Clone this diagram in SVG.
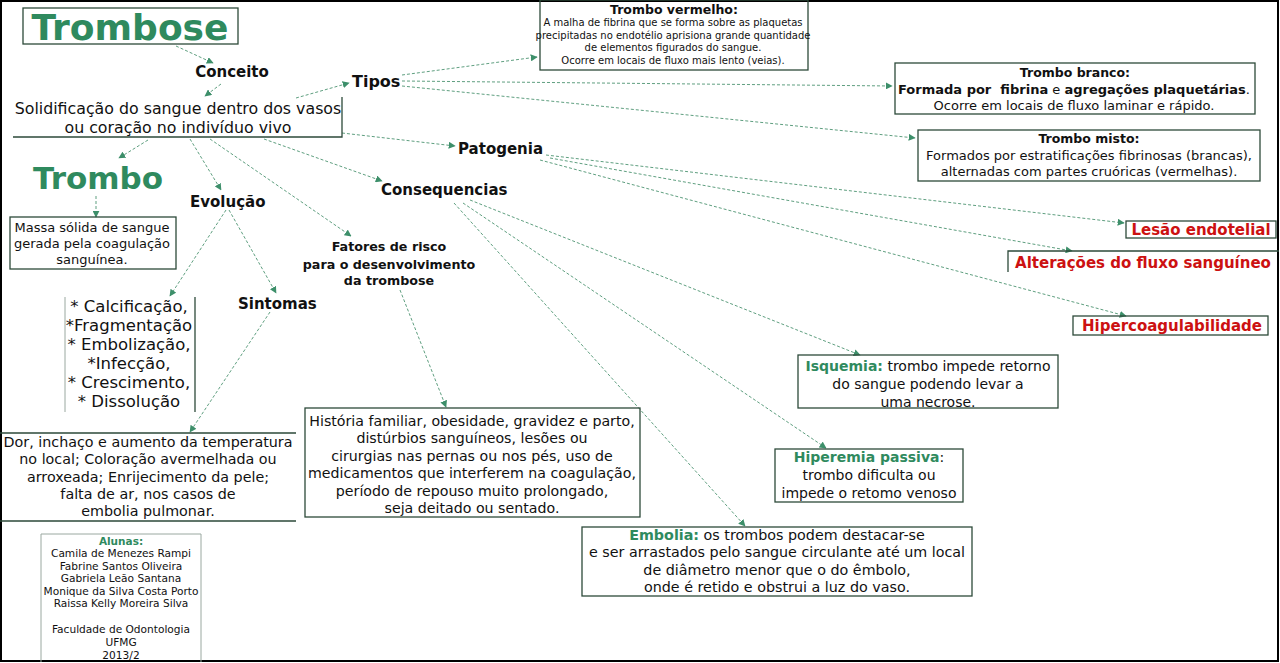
<svg xmlns="http://www.w3.org/2000/svg" width="1280" height="663" viewBox="0 0 1280 663">
<defs>
<marker id="ah" viewBox="0 0 10 10" refX="9" refY="5" markerWidth="7" markerHeight="7" orient="auto" markerUnits="userSpaceOnUse">
<path d="M0,0 L10,5 L0,10 z" fill="#3d8f6a"/>
</marker>
<style>
text{font-family:"DejaVu Sans","Liberation Sans",sans-serif;fill:#111;}
.b{font-weight:bold;}
.g{fill:#2f8a5e;}
.r{fill:#cc1111;font-weight:bold;font-size:15px;}
.box{fill:none;stroke:#2d4a3a;stroke-width:1.3;}
.lbox{fill:none;stroke:#9aa8a0;stroke-width:1;}
.c{fill:none;stroke:#5f9f80;stroke-width:1;stroke-dasharray:3 2;marker-end:url(#ah);}
.m{text-anchor:middle;}
</style>
</defs>
<rect x="0" y="0" width="1280" height="663" fill="#fff"/>
<rect x="1" y="1" width="1277" height="660" fill="none" stroke="#000" stroke-width="2"/>

<g id="connectors">
<path class="c" d="M176,46 L213,63"/>
<path class="c" d="M221,84 L205,96"/>
<path class="c" d="M296,98 L349,83"/>
<path class="c" d="M402,75 L537,57"/>
<path class="c" d="M402,81 L892,86"/>
<path class="c" d="M402,86 L915,138"/>
<path class="c" d="M342,133 L455,146"/>
<path class="c" d="M264,139 L382,181"/>
<path class="c" d="M210,139 L351,236"/>
<path class="c" d="M190,139 L221,190"/>
<path class="c" d="M148,140 L119,158"/>
<path class="c" d="M96,196 L96,217"/>
<path class="c" d="M226,210 L170,296"/>
<path class="c" d="M229,210 L276,293"/>
<path class="c" d="M270,312 L190,432"/>
<path class="c" d="M400,290 L446,407"/>
<path class="c" d="M546,155 L1124,223"/>
<path class="c" d="M550,158 L1072,251"/>
<path class="c" d="M540,160 L1126,316"/>
<path class="c" d="M470,200 L860,355"/>
<path class="c" d="M463,203 L826,448"/>
<path class="c" d="M454,203 L745,526"/>
</g>

<g id="trombose">
<rect class="box" x="23" y="8" width="215" height="36"/>
<text class="b g m" x="130" y="40" font-size="36">Trombose</text>
</g>
<g id="conceito"><text class="b m" x="232" y="77" font-size="15">Conceito</text></g>
<g id="solidificacao">
<path class="box" d="M13,137 L342,137 L342,97"/>
<text class="m" x="178" y="114" font-size="15.8">Solidificação do sangue dentro dos vasos</text>
<text class="m" x="178" y="133" font-size="15.8">ou coração no indivíduo vivo</text>
</g>
<g id="tipos"><text class="b" x="352" y="87" font-size="16">Tipos</text></g>
<g id="trombo-vermelho">
<rect class="box" x="540" y="0" width="268" height="70"/>
<text class="b m" x="674" y="14" font-size="12.5">Trombo vermelho:</text>
<text class="m" x="673" y="26" font-size="10">A malha de fibrina que se forma sobre as plaquetas</text>
<text class="m" x="673" y="39" font-size="10">precipitadas no endotélio aprisiona grande quantidade</text>
<text class="m" x="673" y="51" font-size="10">de elementos figurados do sangue.</text>
<text class="m" x="673" y="64" font-size="10">Ocorre em locais de fluxo mais lento (veias).</text>
</g>
<g id="trombo-branco">
<rect class="box" x="895" y="63" width="360" height="51"/>
<text class="b m" x="1075" y="77" font-size="12.5">Trombo branco:</text>
<text class="m" x="1074" y="94" font-size="13"><tspan class="b">Formada por&#160; fibrina</tspan> e <tspan class="b">agregações plaquetárias</tspan>.</text>
<text class="m" x="1074" y="110" font-size="13">Ocorre em locais de fluxo laminar e rápido.</text>
</g>
<g id="trombo-misto">
<rect class="box" x="918" y="130" width="342" height="51"/>
<text class="b m" x="1089" y="143" font-size="12.5">Trombo misto:</text>
<text class="m" x="1089" y="160" font-size="13">Formados por estratificações fibrinosas (brancas),</text>
<text class="m" x="1089" y="176" font-size="13">alternadas com partes cruóricas (vermelhas).</text>
</g>
<g id="patogenia"><text class="b" x="458" y="154" font-size="15">Patogenia</text></g>
<g id="consequencias"><text class="b" x="381" y="195" font-size="15">Consequencias</text></g>
<g id="lesao">
<rect class="box" x="1126" y="221" width="150" height="17"/>
<text class="r m" x="1201" y="235">Lesão endotelial</text>
</g>
<g id="alteracoes">
<path class="box" d="M1008,272 L1008,251 L1279,251"/>
<text class="r m" x="1143" y="268">Alterações do fluxo sanguíneo</text>
</g>
<g id="hiper">
<rect class="box" x="1073" y="316" width="195" height="19"/>
<text class="r m" x="1172" y="331">Hipercoagulabilidade</text>
</g>
<g id="isquemia">
<rect class="box" x="798" y="355" width="260" height="53"/>
<text class="m" x="928" y="371" font-size="14"><tspan class="b g">Isquemia:</tspan> trombo impede retorno</text>
<text class="m" x="928" y="389" font-size="14">do sangue podendo levar a</text>
<text class="m" x="928" y="407" font-size="14">uma necrose.</text>
</g>
<g id="hiperemia">
<rect class="box" x="775" y="449" width="188" height="53"/>
<text class="m" x="869" y="462" font-size="14"><tspan class="b g">Hiperemia passiva</tspan>:</text>
<text class="m" x="869" y="480" font-size="14">trombo dificulta ou</text>
<text class="m" x="869" y="498" font-size="14">impede o retomo venoso</text>
</g>
<g id="embolia">
<rect class="box" x="582" y="527" width="390" height="69"/>
<text class="m" x="777" y="540" font-size="14.3"><tspan class="b g">Embolia:</tspan> os trombos podem destacar-se</text>
<text class="m" x="777" y="557" font-size="14.3">e ser arrastados pelo sangue circulante até um local</text>
<text class="m" x="777" y="575" font-size="14.3">de diâmetro menor que o do êmbolo,</text>
<text class="m" x="777" y="592" font-size="14.3">onde é retido e obstrui a luz do vaso.</text>
</g>
<g id="fatores">
<text class="b m" x="389" y="251" font-size="12.7">Fatores de risco</text>
<text class="b m" x="389" y="269" font-size="12.7">para o desenvolvimento</text>
<text class="b m" x="389" y="285" font-size="12.7">da trombose</text>
</g>
<g id="historia">
<rect class="box" x="305" y="408" width="335" height="109"/>
<text class="m" x="472" y="426" font-size="14.2">História familiar, obesidade, gravidez e parto,</text>
<text class="m" x="472" y="443" font-size="14.2">distúrbios sanguíneos, lesões ou</text>
<text class="m" x="472" y="461" font-size="14.2">cirurgias nas pernas ou nos pés, uso de</text>
<text class="m" x="472" y="478" font-size="14.2">medicamentos que interferem na coagulação,</text>
<text class="m" x="472" y="496" font-size="14.2">período de repouso muito prolongado,</text>
<text class="m" x="472" y="513" font-size="14.2">seja deitado ou sentado.</text>
</g>
<g id="trombo">
<text class="b g m" x="98" y="189" font-size="31">Trombo</text>
</g>
<g id="massa">
<rect class="box" x="10" y="217" width="166" height="52"/>
<text class="m" x="92" y="232" font-size="13">Massa sólida de sangue</text>
<text class="m" x="92" y="248" font-size="13">gerada pela coagulação</text>
<text class="m" x="92" y="264" font-size="13">sanguínea.</text>
</g>
<g id="evolucao"><text class="b" x="190" y="207" font-size="15">Evolução</text></g>
<g id="calcificacao">
<path class="lbox" d="M65,297 L65,412"/>
<path class="box" d="M195,297 L195,412"/>
<text class="m" x="129" y="312" font-size="16.5">* Calcificação,</text>
<text class="m" x="129" y="331" font-size="16.5">*Fragmentação</text>
<text class="m" x="129" y="350" font-size="16.5">* Embolização,</text>
<text class="m" x="129" y="369" font-size="16.5">*Infecção,</text>
<text class="m" x="129" y="388" font-size="16.5">* Crescimento,</text>
<text class="m" x="129" y="407" font-size="16.5">* Dissolução</text>
</g>
<g id="sintomas"><text class="b" x="238" y="309" font-size="15">Sintomas</text></g>
<g id="dor">
<path class="box" d="M0,433 L296,433 M0,521 L296,521"/>
<text class="m" x="148" y="447" font-size="14.3">Dor, inchaço e aumento da temperatura</text>
<text class="m" x="148" y="464" font-size="14.3">no local; Coloração avermelhada ou</text>
<text class="m" x="148" y="482" font-size="14.3">arroxeada; Enrijecimento da pele;</text>
<text class="m" x="148" y="499" font-size="14.3">falta de ar, nos casos de</text>
<text class="m" x="148" y="516" font-size="14.3">embolia pulmonar.</text>
</g>
<g id="alunas">
<path class="lbox" d="M41,662 L41,534 L201,534 L201,662"/>
<text class="b g m" x="121" y="545" font-size="10.5">Alunas:</text>
<text class="m" x="121" y="557" font-size="10.6">Camila de Menezes Rampi</text>
<text class="m" x="121" y="570" font-size="10.6">Fabrine Santos Oliveira</text>
<text class="m" x="121" y="582" font-size="10.6">Gabriela Leão Santana</text>
<text class="m" x="121" y="595" font-size="10.6">Monique da Silva Costa Porto</text>
<text class="m" x="121" y="607" font-size="10.6">Raissa Kelly Moreira Silva</text>
<text class="m" x="121" y="633" font-size="10.6">Faculdade de Odontologia</text>
<text class="m" x="121" y="646" font-size="10.6">UFMG</text>
<text class="m" x="121" y="659" font-size="10.6">2013/2</text>
</g>
</svg>
